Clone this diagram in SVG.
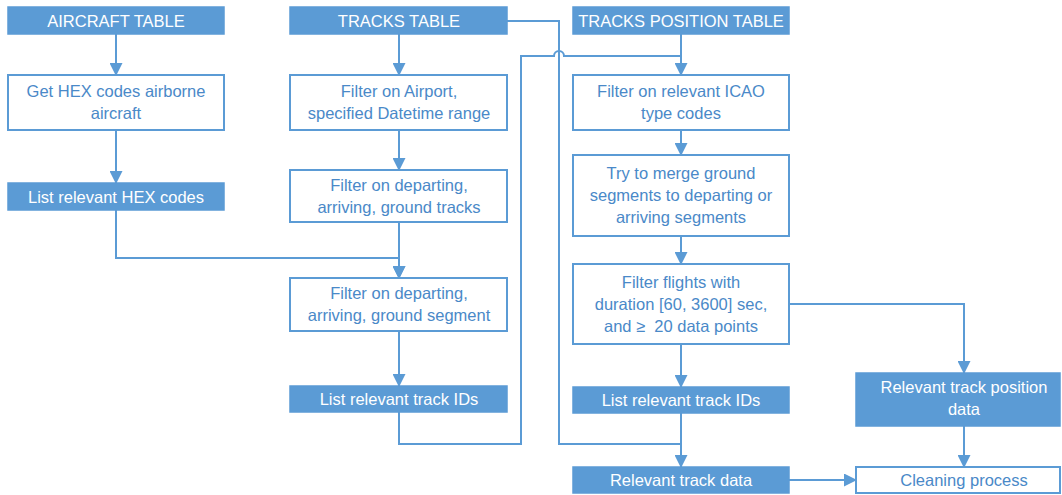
<svg xmlns="http://www.w3.org/2000/svg" width="1062" height="495" viewBox="0 0 1062 495">
<style>
.f{fill:#5B9BD5;stroke:#5B9BD5;stroke-width:1.5}
.w{fill:#fff;stroke:#5B9BD5;stroke-width:2}
.tf{fill:#fff;font-family:"Liberation Sans",Arial,sans-serif;font-size:16.5px;text-anchor:middle}
.tw{fill:#4A89C8;font-family:"Liberation Sans",Arial,sans-serif;font-size:16.5px;text-anchor:middle}
.c{fill:none;stroke:#5B9BD5;stroke-width:2}
</style>
<defs>
<marker id="a" markerWidth="13" markerHeight="13" refX="12" refY="6.5" orient="auto" markerUnits="userSpaceOnUse">
<path d="M0,0 L13,6.5 L0,13 Z" fill="#5B9BD5"/>
</marker>
</defs>
<rect width="1062" height="495" fill="#fff"/>
<g id="connectors">
<path class="c" d="M116,34 V75" marker-end="url(#a)"/>
<path class="c" d="M116,130 V183" marker-end="url(#a)"/>
<path class="c" d="M116,210 V258 H399 V278" marker-end="url(#a)"/>
<path class="c" d="M399,34 V75" marker-end="url(#a)"/>
<path class="c" d="M399,130 V170" marker-end="url(#a)"/>
<path class="c" d="M399,222 V278" marker-end="url(#a)"/>
<path class="c" d="M399,331 V386" marker-end="url(#a)"/>
<path class="c" d="M399,412 V444 H521 V56 H554 A5,5 0 0 1 564,56 H681"/>
<path class="c" d="M507,21 H559 V444 H681 V467" marker-end="url(#a)"/>
<path class="c" d="M681,34 V75" marker-end="url(#a)"/>
<path class="c" d="M681,130 V155" marker-end="url(#a)"/>
<path class="c" d="M681,236 V264" marker-end="url(#a)"/>
<path class="c" d="M681,344 V387" marker-end="url(#a)"/>
<path class="c" d="M681,413 V444"/>
<path class="c" d="M789,304 H964 V373" marker-end="url(#a)"/>
<path class="c" d="M964,426 V467" marker-end="url(#a)"/>
<path class="c" d="M789,480 H856" marker-end="url(#a)"/>
</g>
<g id="aircraft-table"><rect class="f" x="8" y="7" width="216" height="27"/><text class="tf" x="116" y="26.5">AIRCRAFT TABLE</text></g>
<g id="get-hex"><rect class="w" x="8" y="75" width="216" height="55"/><text class="tw" x="116" y="97">Get HEX codes airborne</text><text class="tw" x="116" y="119">aircraft</text></g>
<g id="list-hex"><rect class="f" x="8" y="183" width="216" height="27"/><text class="tf" x="116" y="202.5">List relevant HEX codes</text></g>
<g id="tracks-table"><rect class="f" x="290" y="7" width="217" height="27"/><text class="tf" x="399" y="26.5">TRACKS TABLE</text></g>
<g id="filter-airport"><rect class="w" x="290" y="75" width="217" height="55"/><text class="tw" x="399" y="97">Filter on Airport,</text><text class="tw" x="399" y="119">specified Datetime range</text></g>
<g id="filter-tracks"><rect class="w" x="290" y="170" width="217" height="52"/><text class="tw" x="399" y="191">Filter on departing,</text><text class="tw" x="399" y="213">arriving, ground tracks</text></g>
<g id="filter-segment"><rect class="w" x="290" y="278" width="217" height="53"/><text class="tw" x="399" y="299">Filter on departing,</text><text class="tw" x="399" y="321">arriving, ground segment</text></g>
<g id="list-track-ids-1"><rect class="f" x="290" y="386" width="217" height="26"/><text class="tf" x="399" y="405">List relevant track IDs</text></g>
<g id="tracks-position-table"><rect class="f" x="573" y="7" width="216" height="27"/><text class="tf" x="681" y="26.5">TRACKS POSITION TABLE</text></g>
<g id="filter-icao"><rect class="w" x="573" y="75" width="216" height="55"/><text class="tw" x="681" y="97">Filter on relevant ICAO</text><text class="tw" x="681" y="119">type codes</text></g>
<g id="merge"><rect class="w" x="573" y="155" width="216" height="81"/><text class="tw" x="681" y="179">Try to merge ground</text><text class="tw" x="681" y="201">segments to departing or</text><text class="tw" x="681" y="223">arriving segments</text></g>
<g id="filter-flights"><rect class="w" x="573" y="264" width="216" height="80"/><text class="tw" x="681" y="288">Filter flights with</text><text class="tw" x="681" y="310">duration [60, 3600] sec,</text><text class="tw" x="681" y="332">and ≥&#160; 20 data points</text></g>
<g id="list-track-ids-2"><rect class="f" x="573" y="387" width="216" height="26"/><text class="tf" x="681" y="406">List relevant track IDs</text></g>
<g id="relevant-track-data"><rect class="f" x="573" y="467" width="216" height="26"/><text class="tf" x="681" y="486">Relevant track data</text></g>
<g id="relevant-track-position"><rect class="f" x="856" y="373" width="204" height="53"/><text class="tf" x="964" y="393">Relevant track position</text><text class="tf" x="964" y="415">data</text></g>
<g id="cleaning"><rect class="w" x="856" y="467" width="204" height="26"/><text class="tw" x="964" y="486">Cleaning process</text></g>
</svg>
